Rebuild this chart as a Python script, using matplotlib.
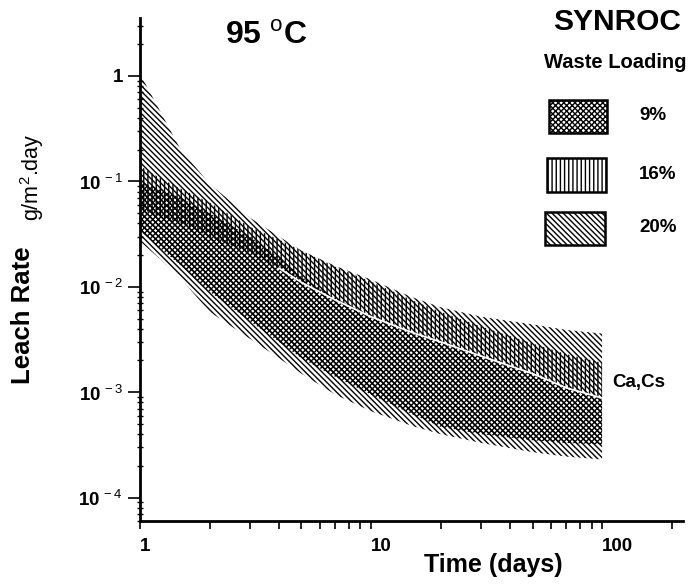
import numpy as np
import matplotlib
matplotlib.use("Agg")
import matplotlib.pyplot as plt
from matplotlib.patches import Rectangle
from matplotlib.ticker import FixedLocator, NullFormatter

plt.rcParams['font.family'] = ['Liberation Sans', 'DejaVu Sans']
plt.rcParams['mathtext.fontset'] = 'custom'
plt.rcParams['mathtext.rm'] = 'Liberation Sans'
plt.rcParams['mathtext.bf'] = 'Liberation Sans:bold'
plt.rcParams['hatch.linewidth'] = 1.0

# time (days) and band limits (g/m2.day)
days = [1, 1.2, 1.5, 2, 3, 4, 5, 7, 10, 15, 20, 30, 50, 70, 100]
hi_20 = [1.05, 0.5, 0.2, 0.095, 0.045, 0.03, 0.022, 0.0158, 0.0117, 0.008,
         0.0064, 0.0052, 0.0044, 0.0039, 0.0036]
lo_20 = [0.027, 0.019, 0.012, 0.0058, 0.0032, 0.0021, 0.0015, 0.00095, 0.00066,
         0.00048, 0.0004, 0.00033, 0.00027, 0.000245, 0.00023]
hi_16 = [0.14, 0.11, 0.085, 0.063, 0.037, 0.028, 0.022, 0.0155, 0.0112, 0.0075,
         0.0058, 0.0042, 0.0029, 0.0023, 0.0019]
lo_16 = [0.055, 0.047, 0.04, 0.03, 0.021, 0.015, 0.011, 0.0075, 0.0052, 0.0037,
         0.003, 0.0022, 0.0015, 0.0011, 0.00088]
hi_9 = [0.1, 0.085, 0.07, 0.05, 0.03, 0.019, 0.0125, 0.0078, 0.0053, 0.0037,
        0.003, 0.0022, 0.0015, 0.0011, 0.00088]
lo_9 = [0.034, 0.024, 0.016, 0.009, 0.0047, 0.003, 0.0021, 0.0014, 0.00095,
        0.00062, 0.00047, 0.0004, 0.00035, 0.00033, 0.00032]

loadings = ['9%', '16%', '20%']
hatches = {'9%': 'x' * 6, '16%': '|' * 4, '20%': '\\' * 6}

y_ticks = [1, 0.1, 0.01, 0.001, 0.0001]
y_labels = ['1', r'10$^{\,-1}$', r'10$^{\,-2}$', r'10$^{\,-3}$', r'10$^{\,-4}$']
x_ticks = [1, 10, 100]
x_labels = ['1', '10', '100']

W, H = 693, 584
fig = plt.figure(figsize=(W / 100, H / 100), dpi=100)
ax = fig.add_axes([140 / W, 1 - 521 / H, 543 / W, 503 / H])

ax.fill_between(days, lo_20, hi_20, facecolor='none', edgecolor='black',
                linewidth=0, hatch=hatches['20%'])
ax.fill_between(days, lo_16, hi_16, facecolor='none', edgecolor='black',
                linewidth=0, hatch=hatches['16%'])
ax.fill_between(days, lo_9, hi_9, facecolor='none', edgecolor='black',
                linewidth=0, hatch=hatches['9%'])
# light gap along the lower edge of the 16% band
ax.plot(days[5:], lo_16[5:], color='white', lw=1.3)

ax.set_xscale('log')
ax.set_yscale('log')
ax.set_xlim(1, 224)
ax.set_ylim(6.0e-5, 3.55)

for side in ['top', 'right']:
    ax.spines[side].set_visible(False)
for side in ['left', 'bottom']:
    ax.spines[side].set_linewidth(2.0)

ax.xaxis.set_major_locator(FixedLocator(x_ticks))
ax.set_xticklabels(x_labels, ha='left')
ax.xaxis.set_minor_locator(FixedLocator([2, 3, 4, 5, 6, 7, 8, 9, 20, 30, 40, 50,
                                         60, 70, 80, 90, 200]))
ax.xaxis.set_minor_formatter(NullFormatter())
ax.yaxis.set_major_locator(FixedLocator(y_ticks))
ax.set_yticklabels(y_labels)
ax.yaxis.set_minor_locator(FixedLocator(
    [m * 10.0 ** e for e in range(-5, 1) for m in range(2, 10)]))
ax.yaxis.set_minor_formatter(NullFormatter())

ax.tick_params(axis='x', which='both', direction='out', length=6, width=1.2,
               labelsize=13.5, pad=6)
ax.tick_params(axis='y', which='major', direction='out', length=9, width=1.2,
               labelsize=13.5, pad=3)
ax.tick_params(axis='y', which='minor', direction='inout', length=4, width=1.0)
for lab in ax.get_xticklabels() + ax.get_yticklabels():
    lab.set_fontweight('bold')

# legend swatches
legend_boxes = {'9%': (409, 100, 58, 33), '16%': (407, 158, 59, 34),
                '20%': (405, 212, 60, 33)}
label_pos = {'9%': (639, 116), '16%': (639, 175), '20%': (639, 228)}
for name in loadings:
    x0, y0, w, h = legend_boxes[name]
    rect = Rectangle((x0 / 543, (521 - y0 - h) / 503), w / 543, h / 503,
                     transform=ax.transAxes, facecolor='white', edgecolor='black',
                     linewidth=1.8, hatch=hatches[name], clip_on=False)
    ax.add_patch(rect)
    lx, ly = label_pos[name]
    fig.text(lx / W, 1 - ly / H, name, ha='left', va='center',
             fontsize=13.5, fontweight='bold')

fig.text(266 / W, 1 - 36 / H, r'95 $^{\mathrm{o}}$C', ha='center', va='center',
         fontsize=23, fontweight='bold')
fig.text(617 / W, 1 - 22 / H, 'SYNROC', ha='center', va='center',
         fontsize=21.5, fontweight='bold')
fig.text(615 / W, 1 - 62 / H, 'Waste Loading', ha='center', va='center',
         fontsize=14.5, fontweight='bold')
fig.text(23 / W, 1 - 315 / H, 'Leach Rate', ha='center', va='center',
         rotation=90, fontsize=18.5, fontweight='bold')
fig.text(32 / W, 1 - 177 / H, r'g/m$^{2}$.day', ha='center', va='center',
         rotation=90, fontsize=15.5)
fig.text(493 / W, 1 - 565 / H, 'Time (days)', ha='center', va='center',
         fontsize=18, fontweight='bold')
fig.text(612 / W, 1 - 382 / H, 'Ca,Cs', ha='left', va='center',
         fontsize=13.5, fontweight='bold')

fig.savefig('out.png', dpi=100)
